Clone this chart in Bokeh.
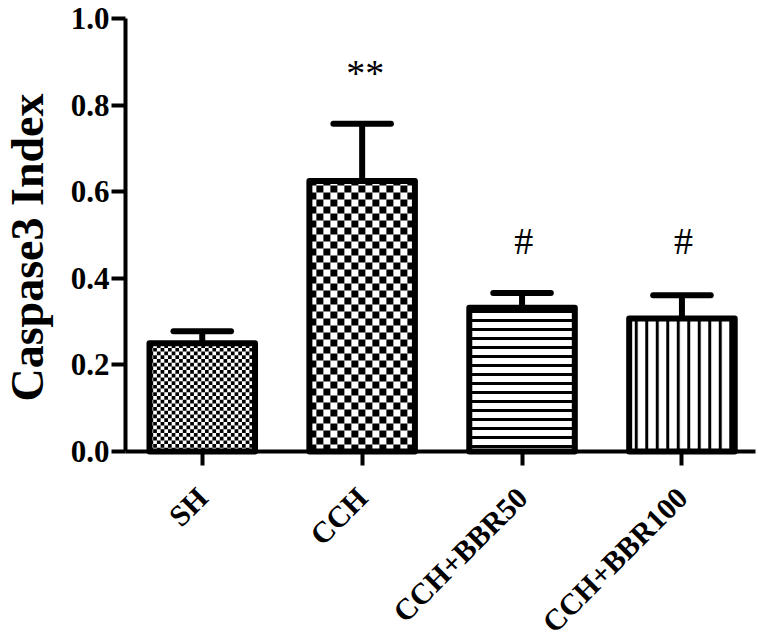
import math
from bokeh.plotting import figure
from bokeh.models import FixedTicker, Range1d
from bokeh.core.properties import value
from bokeh.embed import file_html
from bokeh.resources import INLINE

# ---- data ----
categories = ["SH", "CCH", "CCH+BBR50", "CCH+BBR100"]
means = [0.25, 0.625, 0.332, 0.307]
err_tops = [0.278, 0.757, 0.366, 0.361]
sig_labels = ["", "**", "#", "#"]
y_ticks = [0.0, 0.2, 0.4, 0.6, 0.8, 1.0]
y_tick_labels = ["0.0", "0.2", "0.4", "0.6", "0.8", "1.0"]
y_title = "Caspase3 Index"

# ---- layout (pixels) ----
W, H = 758, 643
AX_LEFT_PX, AX_RIGHT_PX = 125, 755      # x-axis line extent
ZERO_PX, ONE_PX = 451, 18               # y of 0.0 and 1.0
X0, X1 = -0.48, 3.46                    # data x at axis ends
ppu_x = (AX_RIGHT_PX - AX_LEFT_PX) / (X1 - X0)
ppu_y = (ZERO_PX - ONE_PX) / 1.0
XMIN = X0 - AX_LEFT_PX / ppu_x
XMAX = X1 + (W - AX_RIGHT_PX) / ppu_x
YMAX = 1.0 + ONE_PX / ppu_y
YMIN = -(H - ZERO_PX) / ppu_y

# ---- styles ----
hatch_kinds = ["checker", "checker", "horizontal_line", "vertical_line"]
checker_px = [3.7, 7.0, 0, 0]
hatch_scales = [0, 0, 9, 10.5]
hatch_weights = [0, 0, 3, 3]
sig_offsets = [0, 0.118, 0.119, 0.124]
sig_dx = [0, 0.02, 0.01, 0.01]
bar_width = 0.66
cap_half = 0.18
FONT = "Liberation Serif"

xs = list(range(len(categories)))

p = figure(width=W, height=H,
           x_range=Range1d(XMIN, XMAX), y_range=Range1d(YMIN, YMAX),
           output_backend="svg", toolbar_location=None,
           min_border_left=0, min_border_right=0,
           min_border_top=0, min_border_bottom=0)

# error bars (upper only)
p.segment(x0=xs, y0=means, x1=xs, y1=err_tops, line_width=6, line_color="black")
p.segment(x0=[x - cap_half for x in xs], y0=err_tops,
          x1=[x + cap_half for x in xs], y1=err_tops,
          line_width=6, line_color="black", line_cap="round")

# bar fills
for i, x in enumerate(xs):
    kw = dict(fill_color="white", line_color=None)
    if hatch_kinds[i] != "checker":
        kw.update(hatch_pattern=hatch_kinds[i], hatch_color="black",
                  hatch_scale=hatch_scales[i], hatch_weight=hatch_weights[i])
    p.vbar(x=[x], top=[means[i]], bottom=0, width=bar_width, **kw)

# checkerboard textures
ql, qr, qb, qt = [], [], [], []
for i, x in enumerate(xs):
    if hatch_kinds[i] != "checker":
        continue
    s = checker_px[i]
    xl, xr = x - bar_width / 2, x + bar_width / 2
    nx = int(math.ceil((xr - xl) * ppu_x / s))
    ny = int(math.ceil(means[i] * ppu_y / s))
    for a in range(nx):
        for b in range(ny):
            if (a + b) % 2:
                continue
            l = xl + a * s / ppu_x
            bt = b * s / ppu_y
            ql.append(l)
            qr.append(min(l + s / ppu_x, xr))
            qb.append(bt)
            qt.append(min(bt + s / ppu_y, means[i]))
p.quad(left=ql, right=qr, bottom=qb, top=qt, fill_color="black", line_color=None)

# bar outlines
p.vbar(x=xs, top=means, bottom=0, width=bar_width, fill_color=None,
       line_color="black", line_width=6, line_join="round")

# significance markers
sx, sy, st = [], [], []
for i, lab in enumerate(sig_labels):
    if lab:
        sx.append(xs[i] + sig_dx[i])
        sy.append(err_tops[i] + sig_offsets[i])
        st.append(lab)
p.text(x=sx, y=sy, text=st, text_align="center", text_baseline="middle",
       text_font=value(FONT), text_font_size="38px", text_color="black")

# y title
p.text(x=[X0 - 98 / ppu_x], y=[(ZERO_PX - 247) / ppu_y], text=[y_title],
       angle=math.pi / 2, text_align="center", text_baseline="middle",
       text_font=value(FONT), text_font_style="bold",
       text_font_size="46px", text_color="black")

# axes (fixed inside the frame)
p.xaxis.fixed_location = 0
p.xaxis.bounds = (X0, X1)
p.xaxis.ticker = FixedTicker(ticks=xs)
p.xaxis.major_label_overrides = {x: c for x, c in zip(xs, categories)}
p.xaxis.major_label_orientation = math.pi / 4
p.xaxis.major_label_standoff = 27
p.xaxis.major_label_text_font_size = "30px"

p.yaxis.fixed_location = X0
p.yaxis.bounds = (0, 1)
p.yaxis.ticker = FixedTicker(ticks=y_ticks)
p.yaxis.major_label_overrides = {t: l for t, l in zip(y_ticks, y_tick_labels)}
p.yaxis.major_label_standoff = 2
p.yaxis.major_label_text_font_size = "31px"

for ax in (p.xaxis, p.yaxis):
    ax.axis_line_width = 4
    ax.axis_line_color = "black"
    ax.major_tick_line_width = 4
    ax.major_tick_line_color = "black"
    ax.major_tick_out = 14
    ax.major_tick_in = 0
    ax.minor_tick_line_color = None
    ax.major_label_text_font = FONT
    ax.major_label_text_font_style = "bold"
    ax.major_label_text_color = "black"

p.grid.grid_line_color = None
p.outline_line_color = None
p.background_fill_color = "white"

open("out.html", "w").write(file_html(p, INLINE))
